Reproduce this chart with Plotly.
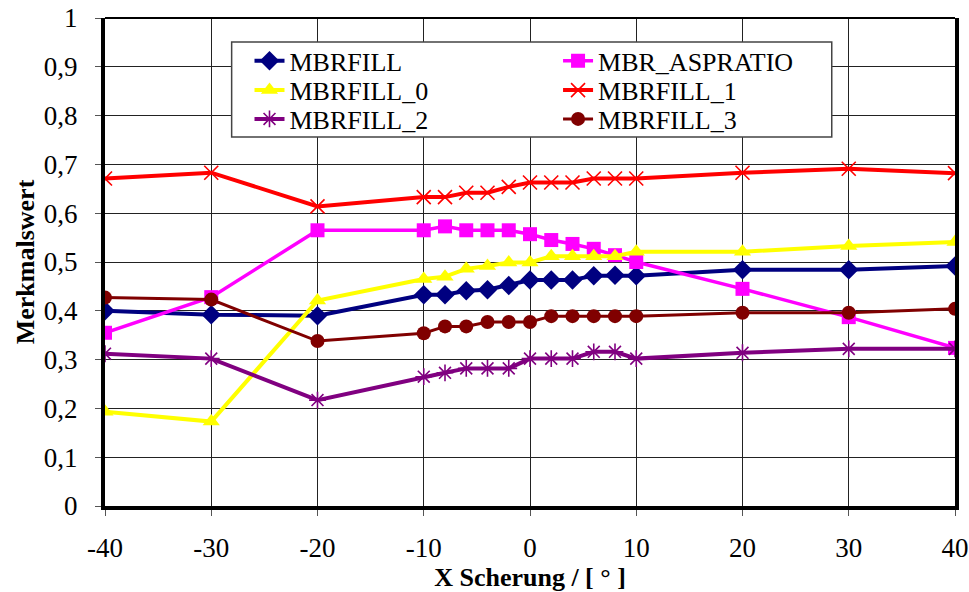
import plotly.graph_objects as go

x_vals = [-40, -30, -20, -10, -8, -6, -4, -2, 0, 2, 4, 6, 8, 10, 20, 30, 40]

mbrfill = [0.400, 0.392, 0.390, 0.433, 0.433, 0.441, 0.443, 0.452, 0.463, 0.463, 0.463, 0.472, 0.473, 0.472, 0.484, 0.484, 0.492]
mbr_aspratio = [0.355, 0.428, 0.565, 0.565, 0.573, 0.565, 0.565, 0.565, 0.557, 0.545, 0.537, 0.527, 0.514, 0.500, 0.445, 0.387, 0.324]
mbrfill_0 = [0.193, 0.173, 0.421, 0.465, 0.470, 0.486, 0.492, 0.499, 0.499, 0.512, 0.512, 0.512, 0.512, 0.521, 0.521, 0.533, 0.541]
mbrfill_1 = [0.671, 0.683, 0.614, 0.633, 0.633, 0.642, 0.642, 0.654, 0.663, 0.663, 0.663, 0.671, 0.671, 0.671, 0.683, 0.691, 0.682]
mbrfill_2 = [0.312, 0.302, 0.217, 0.265, 0.273, 0.282, 0.282, 0.282, 0.302, 0.302, 0.302, 0.316, 0.316, 0.302, 0.314, 0.322, 0.322]
mbrfill_3 = [0.427, 0.423, 0.338, 0.354, 0.368, 0.368, 0.377, 0.377, 0.377, 0.389, 0.389, 0.389, 0.389, 0.389, 0.396, 0.396, 0.404]

x_ticks = [-40, -30, -20, -10, 0, 10, 20, 30, 40]
x_tick_labels = ["-40", "-30", "-20", "-10", "0", "10", "20", "30", "40"]

FONT = "'Liberation Serif', 'DejaVu Serif', serif"

series = [
    ("MBRFILL", mbrfill, "#000080", "diamond", 15, 4, None),
    ("MBR_ASPRATIO", mbr_aspratio, "#FF00FF", "square", 14, 3.5, None),
    ("MBRFILL_0", mbrfill_0, "#FFFF00", "triangle-up", 15, 4, None),
    ("MBRFILL_1", mbrfill_1, "#FF0000", "x-thin-open", 14, 4, 1.6),
    ("MBRFILL_2", mbrfill_2, "#800080", "asterisk-open", 14, 4, 1.6),
    ("MBRFILL_3", mbrfill_3, "#800000", "circle", 14, 3, None),
]

col_x = [0.170, 0.533]
row_y = [0.912, 0.852, 0.793]
legend_pos = [(0, 0), (1, 0), (0, 1), (1, 1), (0, 2), (1, 2)]

fig = go.Figure()
layout_legends = {}
for i, (name, vals, color, sym, size, lw, mlw) in enumerate(series):
    lname = "legend" if i == 0 else f"legend{i+1}"
    marker = dict(symbol=sym, size=size, color=color)
    if mlw:
        marker["line"] = dict(color=color, width=mlw)
    fig.add_trace(go.Scatter(
        x=x_vals, y=vals, name=name, mode="lines+markers",
        line=dict(color=color, width=lw), marker=marker,
        legend=lname, showlegend=True,
    ))
    c, r = legend_pos[i]
    layout_legends[lname] = dict(
        x=col_x[c], y=row_y[r], xanchor="left", yanchor="middle",
        bgcolor="rgba(0,0,0,0)", borderwidth=0,
        font=dict(family=FONT, size=26, color="black"),
        itemwidth=30, tracegroupgap=0,
    )

fig.update_layout(
    width=969, height=592,
    margin=dict(l=105, r=14, t=18, b=86),
    paper_bgcolor="white", plot_bgcolor="white",
    separators=",.",
    font=dict(family=FONT, size=22, color="black"),
    xaxis=dict(
        range=[-40, 40], tickvals=x_ticks, ticktext=x_tick_labels,
        showgrid=True, gridcolor="#222", gridwidth=1,
        showline=True, linecolor="black", linewidth=4,
        ticks="outside", ticklen=6, tickcolor="#555",
        ticklabelstandoff=9, automargin=False,
        tickfont=dict(family=FONT, size=27),
        title=dict(text="<b>X Scherung / [ ° ]</b>", font=dict(family=FONT, size=26), standoff=4),
        zeroline=False,
    ),
    yaxis=dict(
        range=[0, 1], dtick=0.1, tick0=0,
        showgrid=True, gridcolor="#222", gridwidth=1,
        showline=True, linecolor="black", linewidth=4, mirror=True,
        ticks="outside", ticklen=6, tickcolor="#555",
        ticklabelstandoff=12, automargin=False,
        tickfont=dict(family=FONT, size=27),
        title=dict(text="<b>Merkmalswert</b>", font=dict(family=FONT, size=26), standoff=3),
        zeroline=False,
    ),
    shapes=[
        dict(type="line", xref="paper", yref="paper", x0=0, x1=1, y0=1, y1=1,
             line=dict(color="black", width=2)),
        dict(type="rect", xref="paper", yref="paper", x0=0.149, x1=0.855, y0=0.756, y1=0.951,
             line=dict(color="#444", width=1.5), fillcolor="white", layer="above"),
    ],
    **layout_legends,
)

fig.write_html("out.html")
